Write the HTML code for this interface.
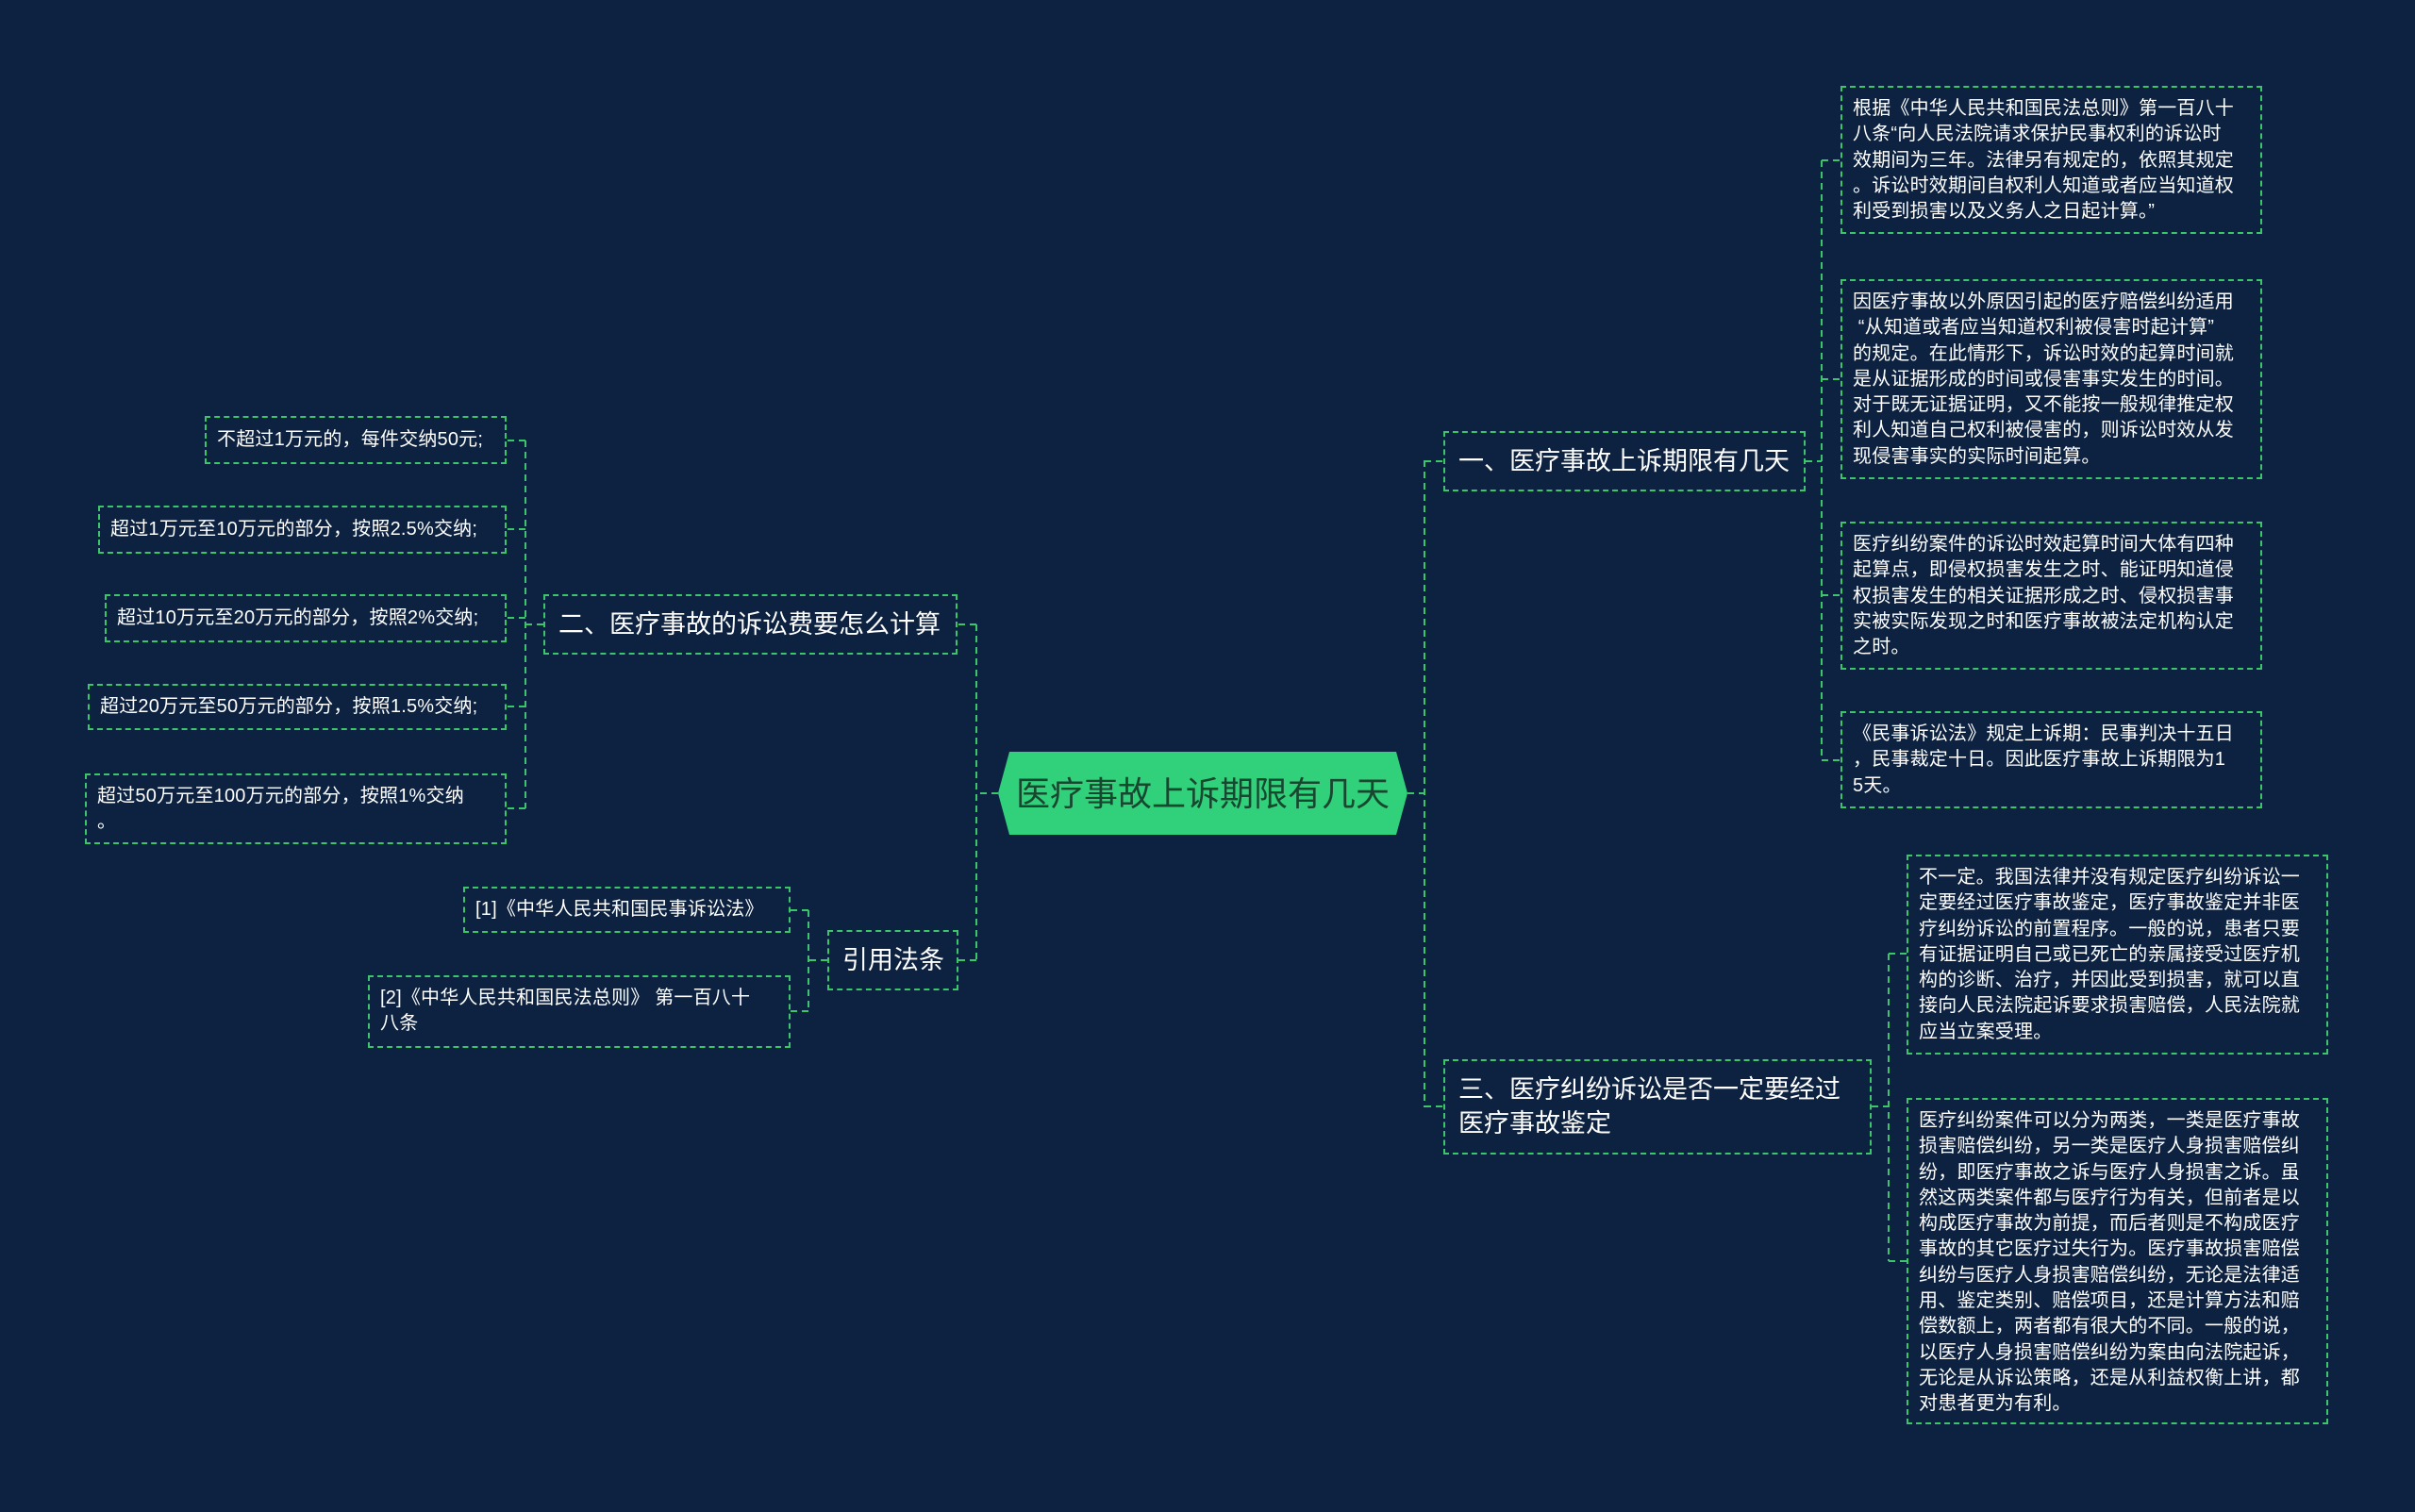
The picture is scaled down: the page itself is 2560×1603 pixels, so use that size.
<!DOCTYPE html>
<html><head><meta charset="utf-8"><style>
body{margin:0;width:2560px;height:1603px;background:#0c2240;position:relative;overflow:hidden;font-family:"Liberation Sans","Noto Sans CJK SC",sans-serif;}
.b{position:absolute;box-sizing:border-box;border:2px dashed #3cc56b;color:#fff;white-space:nowrap;}
.l1{font-size:27px;line-height:36px;padding:12px 14px;}
.lf{font-size:20px;line-height:27.3px;padding:9px 11px;letter-spacing:0.2px;}
.ll{font-size:20px;line-height:27px;padding:11px 11px;text-align:left;letter-spacing:0.2px;}
svg{position:absolute;left:0;top:0;}
</style></head><body>
<svg width="2560" height="1603">
<g stroke="#3cc56b" stroke-width="2" stroke-dasharray="7,5" fill="none">
<path d="M1492 841H1510M1510 488V1174M1510 489H1530M1510 1173H1530"/>
<path d="M1914 489H1931M1931 170V806M1931 170H1951M1931 402H1951M1931 631H1951M1931 806H1951"/>
<path d="M1984 1173H2002M2002 1011V1337M2002 1011H2021M2002 1337H2021"/>
<path d="M1058 841H1035M1035 662V1018M1035 662H1015M1035 1018H1016"/>
<path d="M576 662H557M557 467V857M557 467H537M557 561H537M557 655H537M557 749H537M557 857H537"/>
<path d="M877 1018H857M857 965V1072M857 965H838M857 1072H838"/>
</g>
<polygon points="1070,797 1480,797 1492,841 1480,885 1070,885 1058,841" fill="#31d07a"/>
<text x="1275" y="854" text-anchor="middle" font-size="36" fill="#17472f" font-family="Liberation Sans,Noto Sans CJK SC,sans-serif">医疗事故上诉期限有几天</text>
</svg>

<div class="b l1" style="left:1530px;top:457px;width:384px;height:64px;">一、医疗事故上诉期限有几天</div>
<div class="b l1" style="left:1530px;top:1123px;width:454px;height:101px;padding-top:12px;">三、医疗纠纷诉讼是否一定要经过<br>医疗事故鉴定</div>
<div class="b l1" style="left:576px;top:630px;width:439px;height:64px;">二、医疗事故的诉讼费要怎么计算</div>
<div class="b l1" style="left:877px;top:986px;width:139px;height:64px;">引用法条</div>

<div class="b lf" style="left:1951px;top:91px;width:447px;height:157px;">根据《中华人民共和国民法总则》第一百八十<br>八条“向人民法院请求保护民事权利的诉讼时<br>效期间为三年。法律另有规定的，依照其规定<br>。诉讼时效期间自权利人知道或者应当知道权<br>利受到损害以及义务人之日起计算。”</div>
<div class="b lf" style="left:1951px;top:296px;width:447px;height:212px;">因医疗事故以外原因引起的医疗赔偿纠纷适用<br>&nbsp;“从知道或者应当知道权利被侵害时起计算”<br>的规定。在此情形下，诉讼时效的起算时间就<br>是从证据形成的时间或侵害事实发生的时间。<br>对于既无证据证明，又不能按一般规律推定权<br>利人知道自己权利被侵害的，则诉讼时效从发<br>现侵害事实的实际时间起算。</div>
<div class="b lf" style="left:1951px;top:553px;width:447px;height:157px;">医疗纠纷案件的诉讼时效起算时间大体有四种<br>起算点，即侵权损害发生之时、能证明知道侵<br>权损害发生的相关证据形成之时、侵权损害事<br>实被实际发现之时和医疗事故被法定机构认定<br>之时。</div>
<div class="b lf" style="left:1951px;top:754px;width:447px;height:103px;">《民事诉讼法》规定上诉期：民事判决十五日<br>，民事裁定十日。因此医疗事故上诉期限为1<br>5天。</div>
<div class="b lf" style="left:2021px;top:906px;width:447px;height:212px;">不一定。我国法律并没有规定医疗纠纷诉讼一<br>定要经过医疗事故鉴定，医疗事故鉴定并非医<br>疗纠纷诉讼的前置程序。一般的说，患者只要<br>有证据证明自己或已死亡的亲属接受过医疗机<br>构的诊断、治疗，并因此受到损害，就可以直<br>接向人民法院起诉要求损害赔偿，人民法院就<br>应当立案受理。</div>
<div class="b lf" style="left:2021px;top:1164px;width:447px;height:346px;">医疗纠纷案件可以分为两类，一类是医疗事故<br>损害赔偿纠纷，另一类是医疗人身损害赔偿纠<br>纷，即医疗事故之诉与医疗人身损害之诉。虽<br>然这两类案件都与医疗行为有关，但前者是以<br>构成医疗事故为前提，而后者则是不构成医疗<br>事故的其它医疗过失行为。医疗事故损害赔偿<br>纠纷与医疗人身损害赔偿纠纷，无论是法律适<br>用、鉴定类别、赔偿项目，还是计算方法和赔<br>偿数额上，两者都有很大的不同。一般的说，<br>以医疗人身损害赔偿纠纷为案由向法院起诉，<br>无论是从诉讼策略，还是从利益权衡上讲，都<br>对患者更为有利。</div>

<div class="b ll" style="left:217px;top:441px;width:320px;height:51px;padding-top:10px;">不超过1万元的，每件交纳50元;</div>
<div class="b ll" style="left:104px;top:536px;width:433px;height:51px;padding-top:10px;">超过1万元至10万元的部分，按照2.5%交纳;</div>
<div class="b ll" style="left:111px;top:630px;width:426px;height:51px;padding-top:10px;">超过10万元至20万元的部分，按照2%交纳;</div>
<div class="b ll" style="left:93px;top:725px;width:444px;height:49px;padding-top:9px;">超过20万元至50万元的部分，按照1.5%交纳;</div>
<div class="b ll" style="left:90px;top:820px;width:447px;height:75px;padding-top:9px;">超过50万元至100万元的部分，按照1%交纳<br>。</div>
<div class="b ll" style="left:491px;top:940px;width:347px;height:49px;padding-top:9px;">[1]《中华人民共和国民事诉讼法》</div>
<div class="b ll" style="left:390px;top:1034px;width:448px;height:77px;padding-top:9px;">[2]《中华人民共和国民法总则》 第一百八十<br>八条</div>
</body></html>
